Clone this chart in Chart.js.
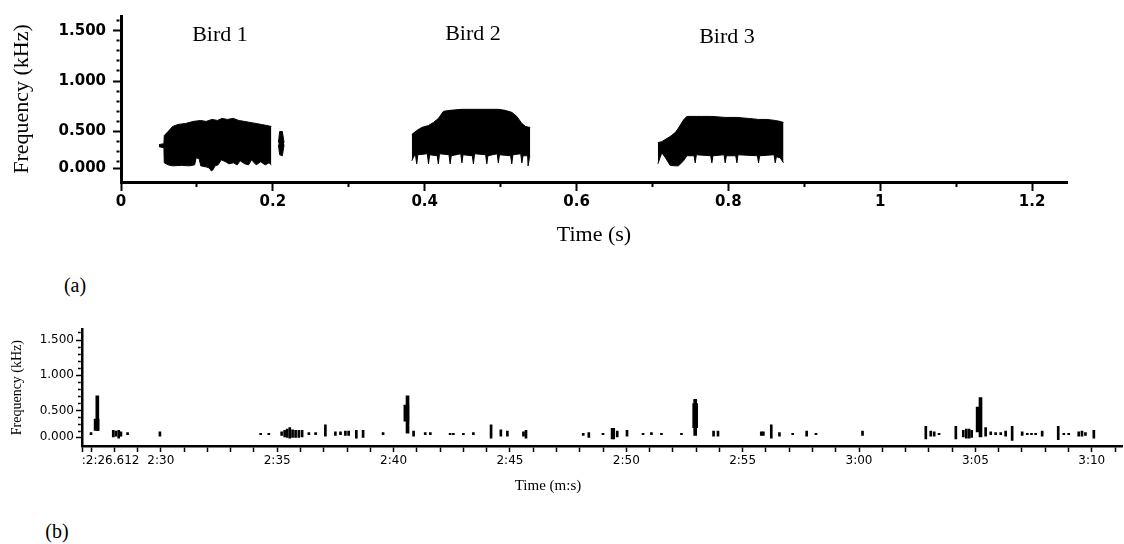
<!DOCTYPE html>
<html>
<head>
<meta charset="utf-8">
<script src="https://cdn.jsdelivr.net/npm/chart.js@4/dist/chart.umd.min.js"></script>
<style>
  html, body { margin: 0; padding: 0; background: #fff; }
  #page { position: relative; width: 1124px; height: 544px; overflow: hidden; font-family: "Liberation Serif", "Times New Roman", serif; color: #000; }
  #page canvas { position: absolute; left: 0; }
  .txt { position: absolute; transform: translate(-50%, -50%); white-space: nowrap; line-height: 1; }
</style>
</head>
<body>
<div id="page">
  <canvas id="chartA" width="1124" height="250" style="top:0"></canvas>
  <canvas id="chartB" width="1124" height="180" style="top:320px"></canvas>
  <div class="txt" style="left:220px;top:34px;font-size:22px">Bird 1</div>
  <div class="txt" style="left:473px;top:33px;font-size:22px">Bird 2</div>
  <div class="txt" style="left:727px;top:36px;font-size:22px">Bird 3</div>
  <div class="txt" style="left:75px;top:285px;font-size:20px">(a)</div>
  <div class="txt" style="left:57px;top:531px;font-size:20px">(b)</div>
  <div class="txt" style="left:548px;top:485px;font-size:15px">Time (m:s)</div>
</div>
<script>
// (a) спектрограмма трёх птиц: верхняя и нижняя граница пятна, с / кГц
const bird1TopTime = [0.050, 0.0565, 0.057, 0.062, 0.068, 0.075, 0.085, 0.095, 0.105, 0.112, 0.120, 0.127, 0.133, 0.140, 0.148, 0.155, 0.163, 0.170, 0.178, 0.185, 0.192, 0.198];
const bird1Top     = [0.37, 0.38, 0.46, 0.50, 0.55, 0.57, 0.58, 0.60, 0.61, 0.60, 0.62, 0.61, 0.63, 0.62, 0.63, 0.61, 0.60, 0.59, 0.58, 0.57, 0.56, 0.55];
const bird1LowTime = [0.050, 0.0565, 0.057, 0.062, 0.068, 0.080, 0.090, 0.097, 0.099, 0.103, 0.105, 0.112, 0.116, 0.119, 0.121, 0.124, 0.128, 0.132, 0.138, 0.142, 0.148, 0.153, 0.157, 0.163, 0.168, 0.172, 0.178, 0.184, 0.190, 0.195, 0.198];
const bird1Low     = [0.35, 0.34, 0.19, 0.17, 0.16, 0.165, 0.16, 0.17, 0.24, 0.23, 0.16, 0.15, 0.14, 0.11, 0.12, 0.16, 0.17, 0.22, 0.20, 0.18, 0.19, 0.17, 0.21, 0.18, 0.17, 0.22, 0.17, 0.20, 0.17, 0.19, 0.17];

const clickTime = [0.2073, 0.2090, 0.2125, 0.2148];
const clickTop  = [0.39, 0.50, 0.50, 0.39];
const clickLow  = [0.37, 0.27, 0.26, 0.37];

const bird2TopTime = [0.383, 0.3895, 0.396, 0.405, 0.4115, 0.418, 0.4247, 0.4335, 0.449, 0.4642, 0.4818, 0.497, 0.506, 0.5147, 0.5213, 0.528, 0.533, 0.539];
const bird2Top     = [0.47, 0.51, 0.54, 0.56, 0.59, 0.63, 0.70, 0.71, 0.72, 0.72, 0.72, 0.72, 0.71, 0.69, 0.65, 0.58, 0.55, 0.54];
const bird2LowTime = [0.383, 0.386, 0.388, 0.3895, 0.391, 0.4035, 0.405, 0.4065, 0.4165, 0.418, 0.4195, 0.432, 0.4335, 0.435, 0.4475, 0.449, 0.4505, 0.4627, 0.4642, 0.4657, 0.4803, 0.4818, 0.4833, 0.4955, 0.497, 0.4985, 0.5132, 0.5147, 0.5162, 0.5265, 0.528, 0.5295, 0.5355, 0.5362, 0.5372, 0.538, 0.539];
const bird2Low     = [0.21, 0.26, 0.26, 0.18, 0.27, 0.28, 0.18, 0.27, 0.26, 0.18, 0.28, 0.27, 0.18, 0.26, 0.28, 0.19, 0.27, 0.26, 0.18, 0.28, 0.27, 0.18, 0.26, 0.28, 0.19, 0.27, 0.26, 0.18, 0.27, 0.28, 0.19, 0.26, 0.26, 0.16, 0.16, 0.25, 0.25];

const bird3TopTime = [0.7071, 0.7123, 0.7167, 0.7233, 0.730, 0.7343, 0.7409, 0.7453, 0.765, 0.7782, 0.7958, 0.8112, 0.8265, 0.8397, 0.8507, 0.8617, 0.8682, 0.8726];
const bird3Top     = [0.39, 0.40, 0.42, 0.45, 0.49, 0.535, 0.615, 0.65, 0.65, 0.65, 0.64, 0.64, 0.63, 0.62, 0.62, 0.61, 0.60, 0.59];
const bird3LowTime = [0.7071, 0.7123, 0.7167, 0.7233, 0.730, 0.7343, 0.7409, 0.7453, 0.7548, 0.7563, 0.7578, 0.7767, 0.7782, 0.7797, 0.7943, 0.7958, 0.7973, 0.8097, 0.8112, 0.8127, 0.8382, 0.8397, 0.8412, 0.8602, 0.8617, 0.8632, 0.8682, 0.8726];
const bird3Low     = [0.18, 0.29, 0.245, 0.165, 0.16, 0.16, 0.21, 0.26, 0.26, 0.19, 0.27, 0.26, 0.19, 0.26, 0.27, 0.19, 0.26, 0.26, 0.19, 0.27, 0.26, 0.19, 0.26, 0.27, 0.19, 0.25, 0.24, 0.19];

const xTickA  = [0, 0.1, 0.2, 0.3, 0.4, 0.5, 0.6, 0.7, 0.8, 0.9, 1.0, 1.1, 1.2];
const xLabelA = ['0', '', '0.2', '', '0.4', '', '0.6', '', '0.8', '', '1', '', '1.2'];
const yTickA  = [0.135, 0.2, 0.3, 0.4, 0.5, 0.6, 0.7, 0.8, 0.9, 1.0, 1.1, 1.2, 1.3, 1.4, 1.5, 1.6];
const yLabelA = ['0.000', '', '', '', '0.500', '', '', '', '', '1.000', '', '', '', '', '1.500', ''];

// (b) длинная запись: короткие отметки шума и четыре крика, с / кГц
const noiseTime = [147.00, 147.955, 148.07, 148.19, 148.285, 148.57, 149.96, 154.29, 154.64, 155.19, 155.32, 155.43, 155.54, 155.66, 155.79, 155.93, 156.07, 156.36, 156.65, 157.07, 157.50, 157.72, 157.93, 158.07, 158.40, 158.69, 159.55, 160.86, 161.36, 161.58, 162.43, 162.57, 163.00, 163.43, 164.19, 164.61, 164.89, 165.58, 165.69, 168.15, 168.39, 169.00, 169.39, 169.46, 169.61, 170.03, 170.72, 171.08, 171.51, 172.37, 173.75, 173.94, 175.80, 175.89, 176.23, 176.58, 177.15, 177.75, 178.15, 180.15, 182.87, 183.08, 183.23, 183.44, 184.16, 184.48, 184.61, 184.73, 184.84, 185.44, 185.66, 185.87, 186.09, 186.30, 186.58, 187.01, 187.23, 187.41, 187.59, 187.87, 188.56, 188.80, 189.01, 189.44, 189.58, 189.73, 190.09];
const noiseLow  = [0.16, 0.13, 0.14, 0.11, 0.14, 0.16, 0.14, 0.16, 0.16, 0.15, 0.13, 0.12, 0.11, 0.12, 0.12, 0.12, 0.13, 0.16, 0.16, 0.14, 0.15, 0.16, 0.15, 0.15, 0.11, 0.12, 0.16, 0.14, 0.16, 0.16, 0.16, 0.16, 0.16, 0.16, 0.11, 0.14, 0.14, 0.14, 0.11, 0.15, 0.12, 0.16, 0.10, 0.10, 0.13, 0.14, 0.16, 0.16, 0.16, 0.16, 0.14, 0.14, 0.15, 0.15, 0.11, 0.14, 0.16, 0.14, 0.16, 0.15, 0.10, 0.14, 0.14, 0.16, 0.10, 0.13, 0.11, 0.11, 0.12, 0.14, 0.16, 0.16, 0.16, 0.14, 0.08, 0.15, 0.16, 0.16, 0.16, 0.14, 0.09, 0.16, 0.16, 0.14, 0.14, 0.15, 0.11];
const noiseHigh = [0.19, 0.22, 0.21, 0.22, 0.20, 0.19, 0.20, 0.18, 0.18, 0.20, 0.22, 0.24, 0.26, 0.23, 0.22, 0.22, 0.22, 0.19, 0.19, 0.30, 0.20, 0.20, 0.21, 0.21, 0.22, 0.22, 0.19, 0.21, 0.19, 0.19, 0.18, 0.18, 0.18, 0.19, 0.30, 0.23, 0.21, 0.20, 0.22, 0.18, 0.19, 0.18, 0.25, 0.25, 0.21, 0.22, 0.18, 0.19, 0.18, 0.18, 0.21, 0.21, 0.20, 0.20, 0.30, 0.19, 0.18, 0.21, 0.18, 0.21, 0.28, 0.21, 0.20, 0.18, 0.28, 0.22, 0.24, 0.24, 0.22, 0.26, 0.20, 0.19, 0.19, 0.21, 0.28, 0.20, 0.18, 0.18, 0.18, 0.21, 0.28, 0.18, 0.18, 0.20, 0.21, 0.19, 0.22];

const callTime = [147.27, 160.60, 172.96, 185.22];
const callLow  = [0.22, 0.18, 0.15, 0.13];
const callHigh = [0.71, 0.71, 0.66, 0.685];
const coreTime = [147.24, 160.55, 172.96, 185.14];
const coreLow  = [0.22, 0.35, 0.26, 0.20];
const coreHigh = [0.38, 0.58, 0.60, 0.55];

const xLabelTimeB = [146.612, 150, 155, 160, 165, 170, 175, 180, 185, 190];
const xLabelTextB = [':2:26.612', '2:30', '2:35', '2:40', '2:45', '2:50', '2:55', '3:00', '3:05', '3:10'];
const yTickB  = [0.125, 0.2, 0.3, 0.4, 0.5, 0.6, 0.7, 0.8, 0.9, 1.0, 1.1, 1.2, 1.3, 1.4, 1.5, 1.6];
const yLabelB = ['0.000', '', '', '', '0.500', '', '', '', '', '1.000', '', '', '', '', '1.500', ''];

Chart.defaults.color = '#000';
Chart.defaults.animation = false;

const serif = 'Liberation Serif';
const sans = 'DejaVu Sans';

function pts(xs, ys) {
  return xs.map((x, i) => ({ x: x, y: ys[i] }));
}

// пара наборов: низ без заливки, верх заливается до низа
function blob(topTime, top, lowTime, low) {
  const base = { borderColor: '#000', backgroundColor: '#000', borderWidth: 1, pointRadius: 0, tension: 0 };
  return [
    Object.assign({ data: pts(lowTime, low), fill: false }, base),
    Object.assign({ data: pts(topTime, top), fill: '-1' }, base)
  ];
}

// мелкие деления короче: рисуем только часть у самой оси
function minorX(len) {
  return (ctx) => (ctx.tick && ctx.tick.label ? [] : [len, 100]);
}
function minorY(skip, len) {
  return (ctx) => (ctx.tick && ctx.tick.label ? [] : [0, skip, len, 100]);
}

new Chart(document.getElementById('chartA'), {
  type: 'line',
  data: {
    datasets: [].concat(
      blob(bird1TopTime, bird1Top, bird1LowTime, bird1Low),
      blob(clickTime, clickTop, clickTime, clickLow),
      blob(bird2TopTime, bird2Top, bird2LowTime, bird2Low),
      blob(bird3TopTime, bird3Top, bird3LowTime, bird3Low)
    )
  },
  options: {
    responsive: false,
    layout: { padding: { top: 12, right: 57, left: 0, bottom: 0 } },
    plugins: { legend: { display: false }, tooltip: { enabled: false } },
    scales: {
      x: {
        type: 'linear', min: 0, max: 1.246,
        afterFit: (s) => { s.height = 68; },
        afterBuildTicks: (s) => { s.ticks = xTickA.map((v) => ({ value: v })); },
        border: { color: '#000', width: 3 },
        grid: { drawOnChartArea: false, tickLength: 9, tickColor: '#000', tickWidth: 2, tickBorderDash: minorX(3) },
        ticks: {
          autoSkip: false, maxRotation: 0, padding: 2,
          font: { family: sans, size: 15, weight: 'bold' },
          callback: (v, i) => xLabelA[i]
        },
        title: { display: true, text: 'Time (s)', font: { family: serif, size: 22 }, padding: { top: 0, bottom: 2 } }
      },
      y: {
        type: 'linear', min: 0, max: 1.645,
        afterFit: (s) => { s.width = 121; },
        afterBuildTicks: (s) => { s.ticks = yTickA.map((v) => ({ value: v })); },
        border: { color: '#000', width: 3 },
        grid: { drawOnChartArea: false, tickLength: 8, tickColor: '#000', tickWidth: 2, tickBorderDash: minorY(3.5, 3) },
        ticks: {
          autoSkip: false, padding: 7,
          font: { family: sans, size: 15, weight: 'bold' },
          callback: (v, i) => yLabelA[i]
        },
        title: { display: true, text: 'Frequency (kHz)', font: { family: serif, size: 22 }, padding: { top: 9, bottom: 0 } }
      }
    }
  }
});

function bars(time, low, high, thick) {
  return {
    data: time.map((t, i) => ({ x: t, y: [low[i], high[i]] })),
    backgroundColor: '#000', borderWidth: 0, barThickness: thick
  };
}

// все секунды как мелкие деления, подписи только у 5-секундных
const xTickB = xLabelTimeB.slice();
for (let s = 147; s <= 191; s++) {
  if (xTickB.indexOf(s) === -1) xTickB.push(s);
}
xTickB.sort((a, b) => a - b);

new Chart(document.getElementById('chartB'), {
  type: 'bar',
  data: {
    datasets: [
      bars(noiseTime, noiseLow, noiseHigh, 2),
      bars(callTime, callLow, callHigh, 3),
      bars(coreTime, coreLow, coreHigh, 5)
    ]
  },
  options: {
    responsive: false,
    layout: { padding: { top: 7, right: 2, left: 0, bottom: 0 } },
    plugins: { legend: { display: false }, tooltip: { enabled: false } },
    scales: {
      x: {
        type: 'linear', min: 146.612, max: 191.3, stacked: true, offset: false,
        afterFit: (s) => { s.height = 54; },
        afterBuildTicks: (s) => { s.ticks = xTickB.map((v) => ({ value: v })); },
        border: { color: '#000', width: 2.5 },
        grid: { offset: false, drawOnChartArea: false, tickLength: 6, tickColor: '#000', tickWidth: 1.5 },
        ticks: {
          autoSkip: false, maxRotation: 0, padding: 2,
          font: { family: sans, size: 12 },
          callback: (v) => {
            const k = xLabelTimeB.indexOf(v);
            if (k === -1) return '';
            // первая подпись начинается от оси, а не по центру деления
            return k === 0 ? ' '.repeat(15) + xLabelTextB[0] : xLabelTextB[k];
          }
        }
      },
      y: {
        type: 'linear', min: 0, max: 1.653,
        afterFit: (s) => { s.width = 82; },
        afterBuildTicks: (s) => { s.ticks = yTickB.map((v) => ({ value: v })); },
        border: { color: '#000', width: 2.5 },
        grid: { drawOnChartArea: false, tickLength: 6, tickColor: '#000', tickWidth: 1.5, tickBorderDash: minorY(2, 2.75) },
        ticks: {
          autoSkip: false, padding: 2,
          font: { family: sans, size: 12 },
          callback: (v, i) => yLabelB[i]
        },
        title: { display: true, text: 'Frequency (kHz)', font: { family: serif, size: 14 }, padding: { top: 9, bottom: 0 } }
      }
    }
  }
});
</script>
</body>
</html>
